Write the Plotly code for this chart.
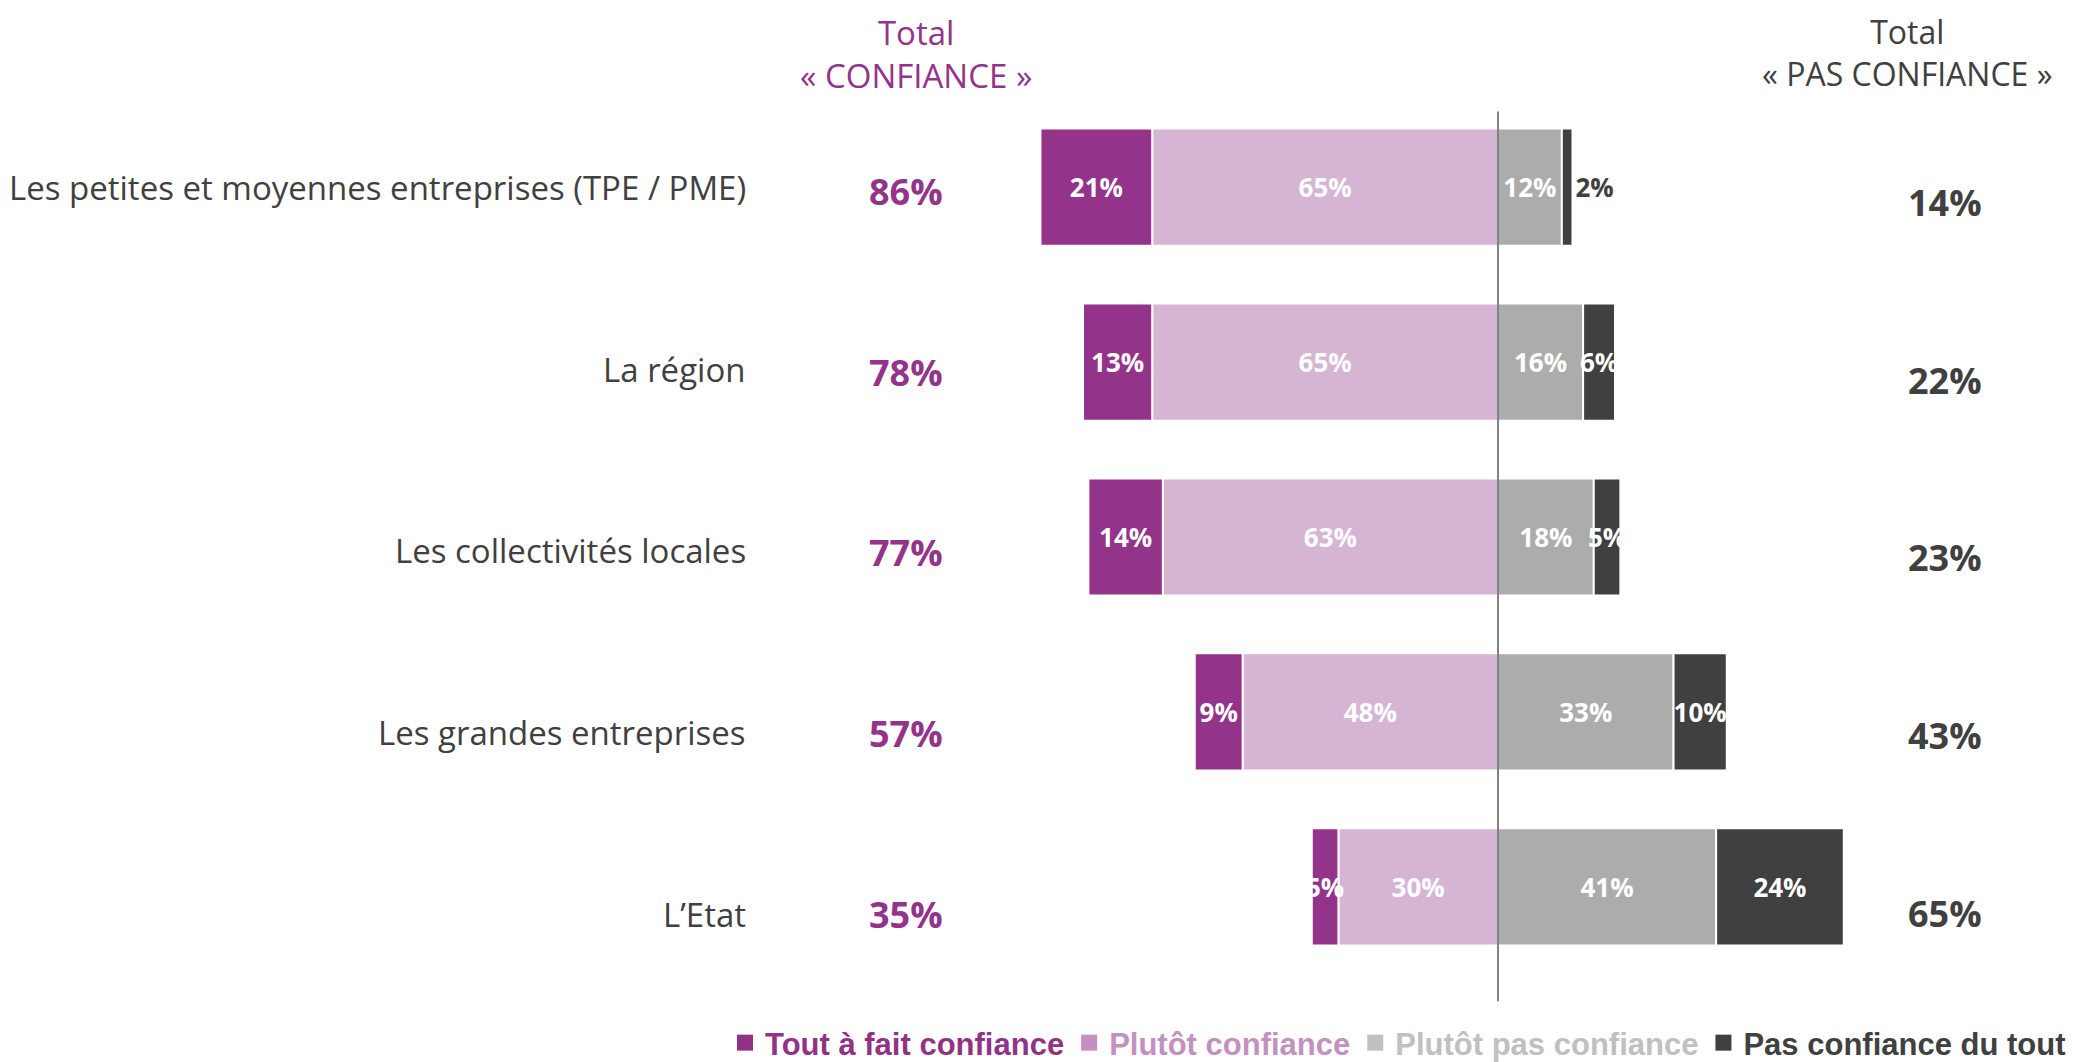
import plotly.graph_objects as go

# --- data -------------------------------------------------------------
categories = [
    "Les petites et moyennes entreprises (TPE / PME)",
    "La région",
    "Les collectivités locales",
    "Les grandes entreprises",
    "L\u2019Etat",
]
tout_a_fait = [21, 13, 14, 9, 5]
plutot = [65, 65, 63, 48, 30]
plutot_pas = [12, 16, 18, 33, 41]
pas_du_tout = [2, 6, 5, 10, 24]
total_confiance = [86, 78, 77, 57, 35]
total_pas_confiance = [14, 22, 23, 43, 65]

legend_names = ["Tout à fait confiance", "Plutôt confiance",
                "Plutôt pas confiance", "Pas confiance du tout"]

PURPLE = "#93338A"
LILAC = "#D6B4D4"
GREY = "#ACACAC"
DARK = "#404040"
legend_colors = ["#923284", "#C390C0", "#C0C0C0", "#404040"]
FONT = "Open Sans"
W, H = 2075, 1062
PAD = 8  # page body margin


def px_x(p):
    return (p - PAD) / W


def px_y(p):
    return 1 - (p - PAD) / H


def pct(vals):
    return [f"{v}%" for v in vals]


fig = go.Figure()

bar_font = dict(color="white", size=26, family=FONT, weight="bold")

# negative side: closest to zero first (relative stacking order)
fig.add_trace(go.Bar(
    y=categories, x=[-v for v in plutot], orientation="h",
    marker=dict(color=LILAC, line=dict(color="white", width=2)),
    text=pct(plutot), textposition="inside",
))
fig.add_trace(go.Bar(
    y=categories, x=[-v for v in tout_a_fait], orientation="h",
    marker=dict(color=PURPLE, line=dict(color="white", width=2)),
    text=pct(tout_a_fait), textposition="inside",
))
fig.add_trace(go.Bar(
    y=categories, x=plutot_pas, orientation="h",
    marker=dict(color=GREY, line=dict(color="white", width=2)),
    text=pct(plutot_pas), textposition="inside",
))
# tiny segment gets its label outside, in dark text
pos_last = ["outside" if v < 3 else "inside" for v in pas_du_tout]
fig.add_trace(go.Bar(
    y=categories, x=pas_du_tout, orientation="h",
    marker=dict(color=DARK, line=dict(color="white", width=2)),
    text=pct(pas_du_tout), textposition=pos_last,
))

fig.update_traces(
    textfont=bar_font, insidetextfont=bar_font,
    insidetextanchor="middle", textangle=0, cliponaxis=False,
    hoverinfo="skip", showlegend=False,
    selector=dict(type="bar"),
)
fig.data[3].outsidetextfont = dict(color=DARK, size=26, family=FONT,
                                   weight="bold")

# legend entries with square markers
for name, col in zip(legend_names, legend_colors):
    fig.add_trace(go.Scatter(
        x=[None], y=[None], mode="markers",
        marker=dict(symbol="square", size=16, color=col),
        name=f"<span style='color:{col}'><b>{name}</b></span>",
        hoverinfo="skip",
    ))

# category labels + totals
for i, cat in enumerate(categories):
    fig.add_annotation(xref="paper", x=px_x(748), y=cat, yref="y", text=cat,
                       xanchor="right", showarrow=False, yshift=-7 * i,
                       font=dict(size=33, color=DARK, family=FONT))
    fig.add_annotation(xref="paper", x=px_x(906), y=cat, yref="y",
                       text=f"<b>{total_confiance[i]}%</b>", xanchor="center",
                       showarrow=False, yshift=-4 - 6 * i,
                       font=dict(size=36, color=PURPLE, family=FONT))
    fig.add_annotation(xref="paper", x=px_x(1945), y=cat, yref="y",
                       text=f"<b>{total_pas_confiance[i]}%</b>",
                       xanchor="center", showarrow=False,
                       yshift=-(15 + 3 * i),
                       font=dict(size=36, color=DARK, family=FONT))

# column headers
fig.add_annotation(xref="paper", yref="paper", x=px_x(916), y=px_y(8.5),
                   xanchor="center", yanchor="top", showarrow=False,
                   text="Total<br>« CONFIANCE »",
                   font=dict(size=33, color=PURPLE, family=FONT))
fig.add_annotation(xref="paper", yref="paper", x=px_x(1907), y=px_y(8.5),
                   xanchor="center", yanchor="top", showarrow=False,
                   text="Total<br>« PAS CONFIANCE »",
                   font=dict(size=32, color=DARK, family=FONT))

# zero line
fig.add_shape(type="line", xref="x", yref="paper", x0=0, x1=0,
              y0=px_y(1006), y1=px_y(112),
              line=dict(color="#5A5A5A", width=1.5))

fig.update_layout(
    width=W, height=H,
    barmode="relative", bargap=0.33,
    plot_bgcolor="white", paper_bgcolor="white",
    margin=dict(l=0, r=0, t=0, b=0),
    uniformtext=dict(minsize=26, mode="show"),
    xaxis=dict(range=[-100, 70], domain=[px_x(966), px_x(1870.4)],
               visible=False, fixedrange=True),
    yaxis=dict(autorange="reversed", domain=[px_y(979), px_y(100)],
               visible=False, fixedrange=True),
    legend=dict(orientation="h", x=px_x(741 - 16), y=px_y(1048),
                xanchor="left", yanchor="middle", traceorder="normal",
                font=dict(family="Liberation Sans", size=31, color=DARK),
                itemwidth=30, bgcolor="rgba(0,0,0,0)"),
    font=dict(family=FONT),
    showlegend=True,
)

fig.write_html("out.html")
